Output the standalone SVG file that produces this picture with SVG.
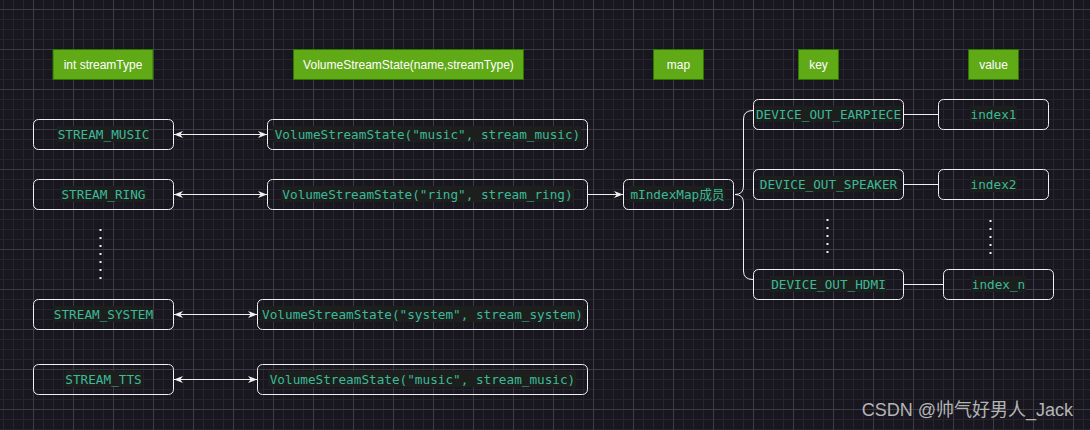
<svg xmlns="http://www.w3.org/2000/svg" width="1090" height="430" viewBox="0 0 1090 430">
<defs>
<pattern id="grid" x="33" y="9" width="40" height="40" patternUnits="userSpaceOnUse">
<path d="M10.5,0V40M20.5,0V40M30.5,0V40M0,10.5H40M0,20.5H40M0,30.5H40" stroke="#26252e" stroke-width="1" fill="none"/>
<path d="M0.5,0V40M0,0.5H40" stroke="#3d3c45" stroke-width="1" fill="none"/>
</pattern>
<marker id="arr" viewBox="0 0 10 10" refX="10" refY="5" markerWidth="9" markerHeight="9" markerUnits="userSpaceOnUse" orient="auto-start-reverse">
<path d="M0,1 L10,5 L0,9 L3,5 z" fill="#f0f0f0"/>
</marker>
<style>
.hdr rect{fill:#60a917;stroke:#2d7600;stroke-width:1}
.hdr text{fill:#ffffff;font-family:"Liberation Sans",Arial,sans-serif;font-size:12px;text-anchor:middle}
.node .box{fill:none;stroke:#f0f0f0;stroke-width:1}
.node .hl{fill:#1d1f1d}
.node text{fill:#3cb99b;font-family:"DejaVu Sans Mono","Liberation Mono","Noto Sans CJK SC",monospace;font-size:12.7px;text-anchor:middle}
.edge{stroke:#f0f0f0;stroke-width:1;fill:none}
.dots{stroke:#f0f0f0;stroke-width:2;stroke-dasharray:2 6;fill:none}
</style>
</defs>
<rect width="1090" height="430" fill="#18171f"/>
<rect width="1090" height="430" fill="url(#grid)"/>

<g id="h-streamType" class="hdr"><rect x="53" y="49.5" width="100" height="30"/><text x="103" y="68.5">int streamType</text></g>
<g id="h-vss" class="hdr"><rect x="293.5" y="49.5" width="230" height="30"/><text x="408.5" y="68.5">VolumeStreamState(name,streamType)</text></g>
<g id="h-map" class="hdr"><rect x="653.5" y="49.5" width="50" height="30"/><text x="678.5" y="68.5">map</text></g>
<g id="h-key" class="hdr"><rect x="798.5" y="49.5" width="40" height="30"/><text x="818.5" y="68.5">key</text></g>
<g id="h-value" class="hdr"><rect x="968.5" y="49.5" width="50" height="30"/><text x="993.5" y="68.5">value</text></g>

<g id="n-music" class="node"><rect class="box" x="33.5" y="119.5" width="140" height="30" rx="5"/><rect class="hl" x="57" y="126" width="92" height="16"/><text x="103.5" y="138.5">STREAM_MUSIC</text></g>
<g id="n-vss-music" class="node"><rect class="box" x="267.5" y="119.5" width="320" height="30" rx="5"/><rect class="hl" x="273" y="126" width="308" height="16"/><text x="427.5" y="138.5">VolumeStreamState("music", stream_music)</text></g>
<g id="n-ring" class="node"><rect class="box" x="33.5" y="179.5" width="140" height="30" rx="5"/><rect class="hl" x="61" y="186" width="85" height="16"/><text x="103.5" y="198.5">STREAM_RING</text></g>
<g id="n-vss-ring" class="node"><rect class="box" x="267.5" y="179.5" width="320" height="30" rx="5"/><rect class="hl" x="281" y="186" width="292" height="16"/><text x="427.5" y="198.5">VolumeStreamState("ring", stream_ring)</text></g>
<g id="n-map" class="node"><rect class="box" x="623.5" y="179.5" width="110" height="30" rx="5"/><rect class="hl" x="629" y="186" width="96" height="16"/><text x="677.5" y="198.5">mIndexMap成员</text></g>
<g id="n-system" class="node"><rect class="box" x="33.5" y="299.5" width="140" height="30" rx="5"/><rect class="hl" x="53" y="306" width="100" height="16"/><text x="103.5" y="318.5">STREAM_SYSTEM</text></g>
<g id="n-vss-system" class="node"><rect class="box" x="257.5" y="299.5" width="330" height="30" rx="5"/><rect class="hl" x="261" y="306" width="323" height="16"/><text x="422.5" y="318.5">VolumeStreamState("system", stream_system)</text></g>
<g id="n-tts" class="node"><rect class="box" x="33.5" y="364.5" width="140" height="30" rx="5"/><rect class="hl" x="65" y="371" width="77" height="16"/><text x="103.5" y="383.5">STREAM_TTS</text></g>
<g id="n-vss-tts" class="node"><rect class="box" x="257.5" y="364.5" width="330" height="30" rx="5"/><rect class="hl" x="268" y="371" width="308" height="16"/><text x="422.5" y="383.5">VolumeStreamState("music", stream_music)</text></g>

<g id="n-earpiece" class="node"><rect class="box" x="753.5" y="99.5" width="150" height="30" rx="5"/><rect class="hl" x="755" y="106" width="146" height="16"/><text x="828.5" y="118.5">DEVICE_OUT_EARPIECE</text></g>
<g id="n-speaker" class="node"><rect class="box" x="753.5" y="169.5" width="150" height="30" rx="5"/><rect class="hl" x="759" y="176" width="139" height="16"/><text x="828.5" y="188.5">DEVICE_OUT_SPEAKER</text></g>
<g id="n-hdmi" class="node"><rect class="box" x="753.5" y="269.5" width="150" height="30" rx="5"/><rect class="hl" x="770" y="276" width="116" height="16"/><text x="828.5" y="288.5">DEVICE_OUT_HDMI</text></g>
<g id="n-index1" class="node"><rect class="box" x="938.5" y="99.5" width="110" height="30" rx="5"/><rect class="hl" x="970" y="106" width="47" height="16"/><text x="993.5" y="118.5">index1</text></g>
<g id="n-index2" class="node"><rect class="box" x="938.5" y="169.5" width="110" height="30" rx="5"/><rect class="hl" x="970" y="176" width="47" height="16"/><text x="993.5" y="188.5">index2</text></g>
<g id="n-indexn" class="node"><rect class="box" x="943.5" y="269.5" width="110" height="30" rx="5"/><rect class="hl" x="971" y="276" width="55" height="16"/><text x="998.5" y="288.5">index_n</text></g>

<g id="connectors">
<path class="edge" d="M174,134.5H267" marker-start="url(#arr)" marker-end="url(#arr)"/>
<path class="edge" d="M174,194.5H267" marker-start="url(#arr)" marker-end="url(#arr)"/>
<path class="edge" d="M588,194.5H623" marker-end="url(#arr)"/>
<path class="edge" d="M174,314.5H257" marker-start="url(#arr)" marker-end="url(#arr)"/>
<path class="edge" d="M174,379.5H257" marker-start="url(#arr)" marker-end="url(#arr)"/>
<path class="edge" d="M904,114.5H938"/>
<path class="edge" d="M904,184.5H938"/>
<path class="edge" d="M904,284.5H943"/>
<path class="edge" d="M753,110.5 Q743.5,110.5 743.5,119 V186 Q743.5,194.5 735,194.5 Q743.5,194.5 743.5,203 V271 Q743.5,279.5 753,279.5"/>
</g>

<g id="ellipsis">
<path class="dots" d="M100.5,229V280"/>
<path class="dots" d="M827.5,219V254"/>
<path class="dots" d="M990.5,220V256"/>
</g>

<text x="1073" y="416" fill="#b4b4b4" font-family="Liberation Sans,'Noto Sans CJK SC',sans-serif" font-size="18" text-anchor="end">CSDN @帅气好男人_Jack</text>
</svg>
